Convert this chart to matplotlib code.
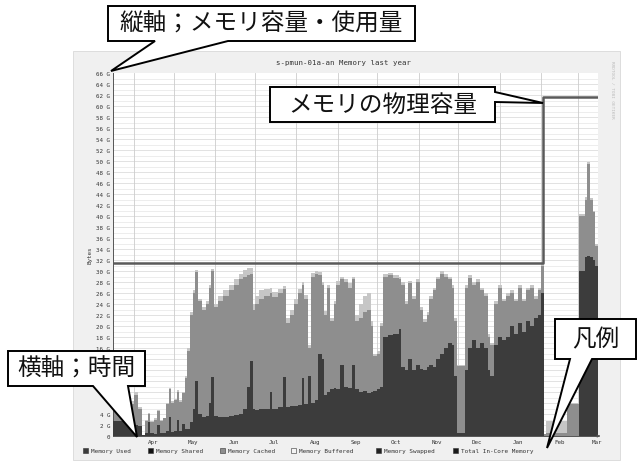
import numpy as np
import matplotlib
matplotlib.use('Agg')
import matplotlib.pyplot as plt
from matplotlib.patches import Polygon, Rectangle

# --- data (G bytes), step-wise samples; day 0 = mid March of last year ---
days = [0, 4, 8, 12, 16, 19, 22, 24, 26, 28, 31, 33, 35, 38, 40, 42, 44, 46, 48, 50,
        52, 54, 56, 58, 60, 62, 64, 67, 70, 72, 74, 76, 79, 83, 87, 91, 95, 98, 101, 103,
        105, 107, 110, 114, 118, 120, 124, 128, 130, 133, 136, 139, 142, 144, 147, 149, 152, 154, 157, 159,
        161, 163, 166, 168, 171, 174, 177, 180, 182, 185, 188, 191, 194, 196, 199, 201, 203, 207, 211, 215,
        217, 220, 222, 225, 228, 231, 233, 236, 238, 241, 243, 246, 249, 252, 255, 257, 259, 265, 267, 270,
        273, 276, 279, 282, 284, 287, 290, 293, 296, 299, 302, 305, 308, 311, 314, 317, 320, 322, 324, 326,
        342, 351, 355, 357, 359, 361, 363, 365]
used = [2.8, 2.8, 2.8, 2.9, 2.0, 1.8, 0.1, 0.6, 2.5, 0.5, 0.4, 2.0, 0.5, 0.6, 1.0, 3.5, 0.8, 1.0, 3.0, 1.0,
        2.2, 1.2, 1.3, 2.5, 5.0, 10.0, 4.0, 3.5, 3.6, 6.0, 10.8, 3.6, 3.4, 3.5, 3.6, 3.8, 4.0, 5.0, 9.0, 13.7,
        5.0, 4.8, 4.9, 5.0, 8.0, 5.0, 5.2, 10.8, 5.3, 5.4, 5.5, 5.6, 10.5, 5.8, 11.0, 6.0, 6.5, 15.0, 14.0, 7.5,
        8.0, 8.5, 8.8, 8.5, 13.0, 9.0, 8.8, 13.0, 8.5, 8.0, 8.2, 7.8, 8.0, 8.2, 8.5, 9.0, 18.0, 18.3, 18.5, 19.5,
        12.5, 12.0, 14.0, 12.0, 13.0, 12.2, 12.0, 12.5, 13.0, 12.5, 14.0, 15.0, 16.0, 17.0, 16.5, 11.0, 0.5, 12.0, 16.0, 17.5,
        16.0, 17.0, 16.0, 12.0, 11.0, 16.5, 18.0, 17.5, 18.0, 20.0, 18.5, 20.5, 19.0, 21.0, 20.0, 21.5, 22.0, 26.0, 0.0, 0.0,
        0.0, 30.0, 32.5, 32.8, 32.6, 32.0, 31.0, 31.0]
cached = [5.0, 5.5, 6.5, 5.8, 7.5, 5.0, 0.2, 2.8, 4.0, 2.6, 3.0, 4.5, 2.8, 3.2, 5.8, 8.5, 6.0, 6.5, 8.0, 6.2,
          7.8, 10.5, 15.5, 22.0, 26.0, 29.8, 24.5, 23.0, 24.0, 27.0, 30.0, 23.5, 24.6, 25.5, 26.5, 27.5, 28.5, 29.0, 29.2, 29.5,
          23.0, 24.0, 25.0, 25.5, 26.0, 25.2, 26.0, 26.8, 20.5, 22.0, 24.0, 26.0, 27.5, 25.0, 16.0, 29.0, 29.5, 29.2, 27.5, 22.0,
          27.0, 21.0, 24.0, 27.5, 28.5, 28.0, 27.0, 28.5, 21.0, 21.5, 22.5, 23.0, 20.0, 14.5, 15.0, 20.0, 29.0, 29.2, 28.8, 28.5,
          27.5, 24.0, 27.8, 25.0, 28.0, 23.0, 20.8, 22.0, 25.0, 26.5, 28.5, 29.5, 29.0, 28.5, 27.0, 21.0, 12.8, 27.0, 28.8, 27.5,
          28.0, 26.5, 25.5, 18.0, 16.5, 24.0, 27.0, 24.5, 25.5, 26.0, 24.5, 27.0, 24.5, 26.5, 27.0, 25.0, 26.5, 31.0, 0.3, 0.5,
          5.8, 40.0, 43.0, 49.5, 43.0, 40.8, 34.5, 34.5]
buffered = [5.5, 6.0, 7.0, 6.3, 8.0, 5.3, 0.2, 3.0, 4.2, 2.8, 3.2, 4.7, 3.0, 3.3, 6.0, 8.8, 6.3, 6.8, 8.3, 6.5,
            8.0, 11.0, 16.0, 22.5, 26.5, 30.2, 25.0, 23.5, 24.5, 27.5, 30.4, 24.0, 25.5, 26.5, 27.5, 28.5, 29.5, 30.2, 30.6, 30.5,
            24.0, 25.5, 26.5, 26.8, 27.0, 26.2, 26.8, 27.3, 21.5, 23.0, 25.0, 26.8, 28.0, 25.6, 16.5, 29.6, 30.0, 29.8, 28.0, 22.8,
            27.5, 21.5, 24.5, 28.2, 29.0, 28.6, 27.8, 29.0, 22.0, 24.0, 25.5, 26.0, 21.0, 15.0, 15.5, 20.5, 29.5, 29.6, 29.2, 29.0,
            28.0, 24.5, 28.2, 25.5, 28.5, 23.5, 21.3, 22.5, 25.5, 27.0, 29.0, 30.0, 29.5, 29.0, 27.5, 21.5, 13.0, 27.5, 29.2, 28.0,
            28.5, 27.0, 26.0, 18.5, 17.0, 24.5, 27.5, 25.0, 26.0, 26.5, 25.0, 27.5, 25.0, 27.0, 27.5, 25.5, 27.0, 31.3, 0.3, 2.8,
            6.0, 40.3, 43.5, 49.8, 43.3, 41.0, 35.0, 35.0]
cap_days = [0, 323.5, 365]
cap_vals = [31.4, 61.7, 61.7]

month_start = [16, 46, 77, 107, 138, 169, 199, 230, 260, 291, 322, 350]
month_names = ['Apr', 'May', 'Jun', 'Jul', 'Aug', 'Sep', 'Oct', 'Nov', 'Dec', 'Jan', 'Feb', 'Mar']
# y labels hidden behind the "横軸" callout in the original are left out
ytick_vals = [0, 2, 4, 16, 18, 20, 22, 24, 26, 28, 30, 32, 34, 36, 38, 40, 42, 44, 46, 48, 50,
              52, 54, 56, 58, 60, 62, 64, 66]
legend_names = ['Memory Used', 'Memory Shared', 'Memory Cached', 'Memory Buffered',
                'Memory Swapped', 'Total In-Core Memory']
legend_colors = ['#3c3c3c', '#111111', '#8e8e8e', '#f4f4f4', '#222222', '#1a1a1a']
legend_x = [83, 148, 220, 291, 376, 453]

W, H = 639, 464
MONO = 'DejaVu Sans Mono'
CJK = ['Noto Sans CJK JP', 'DejaVu Sans']

fig = plt.figure(figsize=(W / 100, H / 100), dpi=100)

# rrd-style image background
bg = fig.add_axes([0, 0, 1, 1], zorder=0)
bg.set_xlim(0, W)
bg.set_ylim(H, 0)
bg.axis('off')
bg.add_patch(Rectangle((73, 52), 547, 409, facecolor='#f0f0f0', edgecolor='#d8d8d8', lw=0.6))

x0, x1, y0, y1 = 113, 598, 437, 74
ax = fig.add_axes([x0 / W, (H - y0) / H, (x1 - x0) / W, (y0 - y1) / H], zorder=1)
ax.set_facecolor('white')
ax.set_xlim(0, 365)
ax.set_ylim(0, 66)

# grid
for g in np.arange(1, 66, 1):
    ax.axhline(g, color='#d6d6d6' if g % 2 == 0 else '#e6e6e6', lw=0.5, zorder=0)
for m in month_start:
    ax.axvline(m, color='#cccccc', lw=0.6, zorder=0)

ax.fill_between(days, 0, used, step='post', color='#3c3c3c', lw=0, zorder=3)
ax.fill_between(days, used, cached, step='post', color='#8e8e8e', lw=0, zorder=2)
ax.fill_between(days, cached, buffered, step='post', color='#c6c6c6', lw=0, zorder=2)
ax.plot(cap_days, cap_vals, drawstyle='steps-post', color='#5a5a5a', lw=1.8, zorder=4)

ax.set_yticks(ytick_vals, ['0'] + [f'{v} G' for v in ytick_vals[1:]], fontsize=4.2, family=MONO,
              color='#333333')
ax.set_xticks([m + 14 for m in month_start], month_names, fontsize=4.2, family=MONO, color='#333333')
ax.tick_params(length=0, pad=2)
for s in ['top', 'right']:
    ax.spines[s].set_visible(False)
for s in ['left', 'bottom']:
    ax.spines[s].set_color('#555555')
    ax.spines[s].set_linewidth(0.7)
ax.set_ylabel('Bytes', fontsize=4.2, family=MONO, color='#333333', labelpad=3)

# overlay for title, legend and callouts
ov = fig.add_axes([0, 0, 1, 1], zorder=2)
ov.set_xlim(0, W)
ov.set_ylim(H, 0)
ov.axis('off')
ov.patch.set_alpha(0)
ov.text(343, 63, 's-pmun-01a-an Memory last year', fontsize=5.3, family=MONO, color='#333333',
        ha='center', va='center')
ov.text(612, 90, 'RRDTOOL / TOBI OETIKER', fontsize=3.2, family=MONO, color='#bbbbbb',
        rotation=270, ha='center', va='center')
ov.annotate('', xy=(603, 437), xytext=(596, 437),
            arrowprops=dict(arrowstyle='-|>', color='#555555', lw=0.6, mutation_scale=4))
for name, col, lx in zip(legend_names, legend_colors, legend_x):
    ov.add_patch(Rectangle((lx, 449), 5, 5, facecolor=col, edgecolor='#333333', lw=0.4))
    ov.text(lx + 8, 451.5, name, fontsize=4.3, family=MONO, color='#333333', va='center', ha='left')

callouts = [
    ([(108, 7), (415, 7), (415, 42), (228, 42), (111, 72), (155, 42), (108, 42)],
     '縦軸；メモリ容量・使用量', (261.5, 24.5)),
    ([(270, 88), (495, 88), (495, 93), (543, 104), (495, 103), (495, 123), (270, 123)],
     'メモリの物理容量', (382.5, 105.5)),
    ([(8, 352), (145, 352), (145, 387), (128, 387), (137, 438), (93, 387), (8, 387)],
     '横軸；時間', (76.5, 369.5)),
    ([(555, 320), (636, 320), (636, 360), (592, 360), (547, 449), (570, 360), (555, 360)],
     '凡例', (596, 340)),
]
for pts, label, (tx, ty) in callouts:
    ov.add_patch(Polygon(pts, closed=True, facecolor='white', edgecolor='black', lw=1.4, joinstyle='miter'))
    ov.text(tx, ty, label, fontsize=17, family=CJK, color='#111111', ha='center', va='center')

fig.savefig('out.png', dpi=100)
